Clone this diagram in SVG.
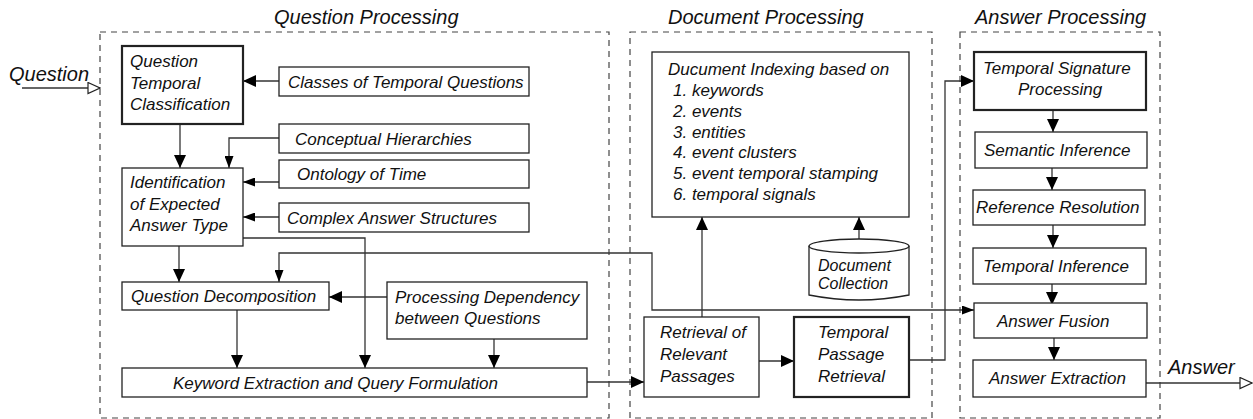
<svg xmlns="http://www.w3.org/2000/svg" width="1253" height="419" viewBox="0 0 1253 419">
<style>
text{font-family:"Liberation Sans",Arial,sans-serif;font-style:italic;font-size:17px;fill:#111}
.title{font-size:20px}
.cyl{font-size:16px}
.box{fill:#fff;stroke:#222;stroke-width:1.3}
.thick{stroke-width:2.2}
.dash{fill:none;stroke:#444;stroke-width:1.2;stroke-dasharray:6 5}
.c{fill:none;stroke:#333;stroke-width:1.3}
.big{marker-end:url(#ab)}
.sm{marker-end:url(#as)}
</style>
<defs>
<marker id="ab" markerUnits="userSpaceOnUse" markerWidth="13" markerHeight="12" refX="13" refY="6" orient="auto-start-reverse"><path d="M0,0 L13,6 L0,12 z" fill="#000"/></marker>
<marker id="as" markerUnits="userSpaceOnUse" markerWidth="12" markerHeight="9" refX="12" refY="4.5" orient="auto-start-reverse"><path d="M0,0 L12,4.5 L0,9 z" fill="#000"/></marker>
<marker id="ao" markerUnits="userSpaceOnUse" markerWidth="14" markerHeight="13" refX="13" refY="6.5" orient="auto"><path d="M1,1 L13,6.5 L1,12 z" fill="#fff" stroke="#222" stroke-width="1.2"/></marker>
</defs>

<g id="groups">
<rect class="dash" x="100" y="32" width="509" height="386"/>
<rect class="dash" x="630" y="32" width="302" height="386"/>
<rect class="dash" x="960" y="32" width="200" height="386"/>
<text class="title" x="274" y="24">Question Processing</text>
<text class="title" x="668" y="24">Document Processing</text>
<text class="title" x="975" y="24">Answer Processing</text>
</g>

<g id="connectors">
<path class="c" d="M22,88 H100" marker-end="url(#ao)"/>
<path class="c big" d="M279,81 H243"/>
<path class="c big" d="M180,124 V168"/>
<path class="c sm" d="M279,138 H229 V168"/>
<path class="c sm" d="M279,182 H243"/>
<path class="c sm" d="M279,217 H243"/>
<path class="c big" d="M243,238 H365 V368"/>
<path class="c big" d="M179,246 V282"/>
<path class="c" d="M279,282 V253 H652 V310 H974" marker-start="url(#as)" marker-end="url(#as)"/>
<path class="c big" d="M387,297 H329"/>
<path class="c big" d="M237,310 V368"/>
<path class="c big" d="M494,339 V368"/>
<path class="c big" d="M587,382 H644"/>
<path class="c big" d="M702,317 V217"/>
<path class="c big" d="M859,239 V217"/>
<path class="c big" d="M759,361 H794"/>
<path class="c big" d="M909,360 H945 V81 H974"/>
<path class="c big" d="M1053,110 V132"/>
<path class="c big" d="M1052,168 V190"/>
<path class="c big" d="M1053,225 V248"/>
<path class="c big" d="M1052,284 V305"/>
<path class="c big" d="M1054,338 V360"/>
<path class="c" d="M1146,383 H1252" marker-end="url(#ao)"/>
</g>

<g id="in-label"><text class="title" x="9" y="81">Question</text></g>
<g id="out-label"><text class="title" x="1168" y="374">Answer</text></g>

<g id="qtc"><rect class="box thick" x="122" y="46" width="121" height="78"/>
<text x="130" y="67">Question</text><text x="130" y="89">Temporal</text><text x="130" y="110">Classification</text></g>
<g id="classes"><rect class="box" x="279" y="67" width="250" height="29"/><text x="288" y="87.5">Classes of Temporal Questions</text></g>
<g id="conceptual"><rect class="box" x="279" y="124" width="250" height="29"/><text x="295" y="144.5">Conceptual Hierarchies</text></g>
<g id="ontology"><rect class="box" x="279" y="160" width="250" height="28"/><text x="297" y="180">Ontology of Time</text></g>
<g id="complex"><rect class="box" x="279" y="203" width="250" height="29"/><text x="287" y="223.5">Complex Answer Structures</text></g>
<g id="ieat"><rect class="box" x="122" y="168" width="121" height="78"/>
<text x="130" y="188">Identification</text><text x="130" y="209.5">of Expected</text><text x="130" y="231">Answer Type</text></g>
<g id="qd"><rect class="box" x="122" y="282" width="207" height="28"/><text x="131" y="302">Question Decomposition</text></g>
<g id="pdq"><rect class="box" x="387" y="282" width="200" height="57"/>
<text x="395" y="303">Processing Dependency</text><text x="395" y="324">between Questions</text></g>
<g id="keqf"><rect class="box" x="122" y="368" width="465" height="29"/><text x="173" y="388.5">Keyword Extraction and Query Formulation</text></g>

<g id="docindex"><rect class="box" x="652" y="52" width="257" height="165"/>
<text x="668" y="75">Ducument Indexing based on</text>
<text x="673" y="96">1. keywords</text>
<text x="673" y="117">2. events</text>
<text x="673" y="138">3. entities</text>
<text x="673" y="158">4. event clusters</text>
<text x="673" y="179">5. event temporal stamping</text>
<text x="673" y="200">6. temporal signals</text></g>
<g id="collection">
<path class="box" d="M809,246 V295 Q859,305 909,295 V246"/>
<ellipse class="box" cx="859" cy="246" rx="50" ry="7"/>
<text class="cyl" x="818" y="271">Document</text><text class="cyl" x="818" y="289">Collection</text></g>
<g id="retrieval"><rect class="box" x="644" y="317" width="115" height="80"/>
<text x="660" y="338">Retrieval of</text><text x="660" y="360">Relevant</text><text x="660" y="382">Passages</text></g>
<g id="tpr"><rect class="box thick" x="794" y="317" width="115" height="80"/>
<text x="818" y="338">Temporal</text><text x="818" y="360">Passage</text><text x="818" y="382">Retrieval</text></g>

<g id="tsp"><rect class="box thick" x="974" y="52" width="172" height="58"/>
<text x="983" y="74">Temporal Signature</text><text x="1018" y="95">Processing</text></g>
<g id="si"><rect class="box" x="975" y="132" width="172" height="36"/><text x="984" y="156">Semantic Inference</text></g>
<g id="rr"><rect class="box" x="973" y="190" width="172" height="35"/><text x="976" y="213">Reference Resolution</text></g>
<g id="ti"><rect class="box" x="973" y="248" width="173" height="36"/><text x="983" y="272">Temporal Inference</text></g>
<g id="af"><rect class="box" x="974" y="303" width="173" height="35"/><text x="997" y="327">Answer Fusion</text></g>
<g id="ae"><rect class="box" x="973" y="360" width="173" height="37"/><text x="989" y="384">Answer Extraction</text></g>
</svg>
